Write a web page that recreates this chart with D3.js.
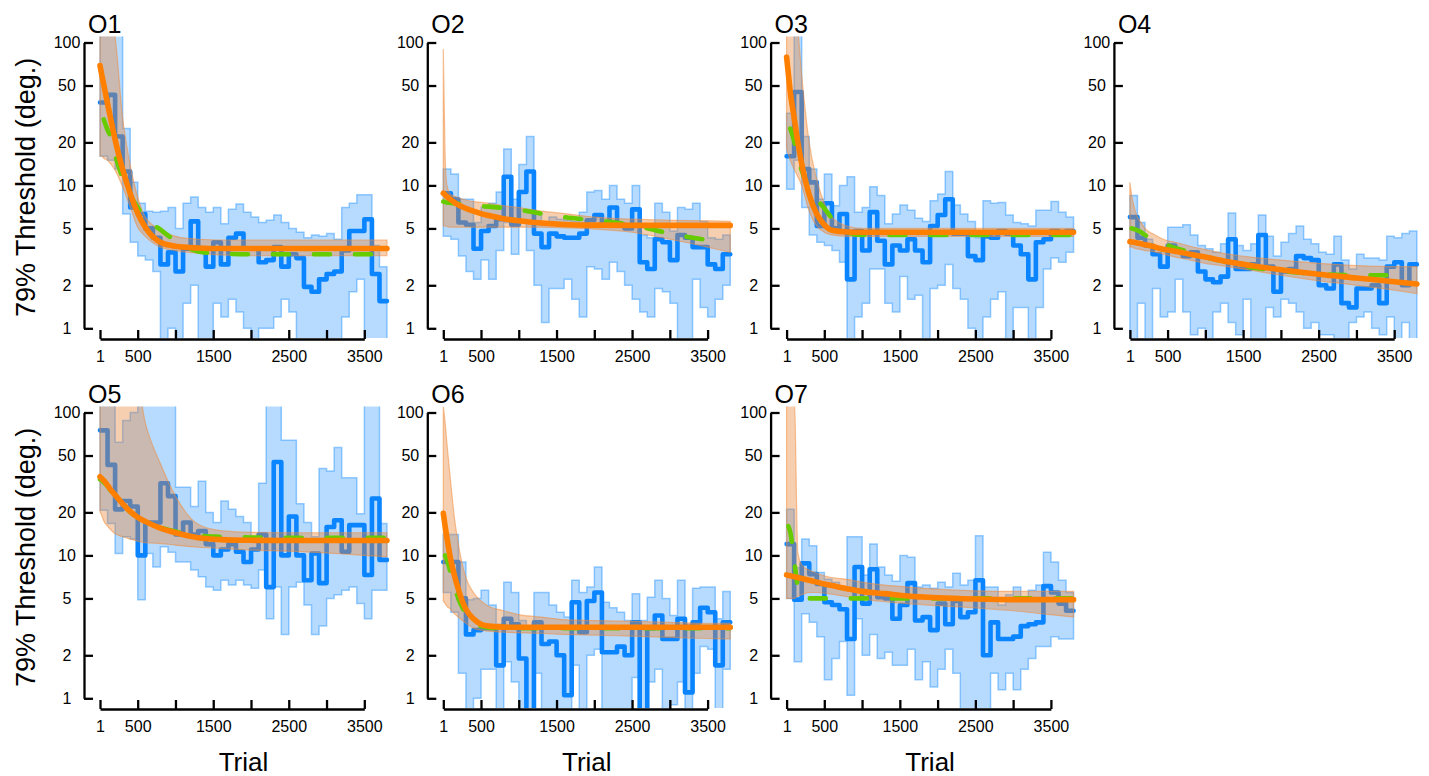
<!DOCTYPE html>
<html>
<head>
<meta charset="utf-8">
<script src="https://cdn.jsdelivr.net/npm/d3@7"></script>
<style>
body { margin: 0; background: #fff; }
svg { display: block; font-family: "Liberation Sans", Arial, sans-serif; }
</style>
</head>
<body>
<svg id="chart" width="1429" height="776"></svg>
<script>
// observers, one panel each
var NAMES = ["O1", "O2", "O3", "O4", "O5", "O6", "O7"];
var BLOCK = 100;           // trials per block of the staircase estimate
var LAST_TRIAL = 3800;
var X_TICKS = [1, 500, 1000, 1500, 2000, 2500, 3000, 3500];
var X_LABELS = [1, 500, 1500, 2500, 3500];
var Y_TICKS = [1, 2, 5, 10, 20, 50, 100];

// block thresholds (blue) with their interval
var o1Blue   = [38,43,22,12.5,7,6.3,5,4.3,2.8,3.4,2.5,3.6,5.6,3.6,2.7,4.0,2.8,4.3,4.6,3.6,3.6,2.9,3.0,3.7,2.7,3.3,3.1,1.95,1.8,2.2,2.4,2.5,3.5,4.8,4.8,5.8,2.4,1.55];
var o1BlueHi = [150,150,150,25,10.5,7.5,6.6,6.5,6.6,7,5,7.5,8.3,7,6.5,7,5.4,6.8,7.4,6.5,6,5.5,5.7,6.2,5.5,5,4.7,4.3,4.5,4.4,4.6,4.2,7,7.5,8.6,8.6,3.8,2.7];
var o1BlueLo = [16,15,13,6.3,4,3.2,3,2.5,0.5,1,0.6,1.5,2,0.5,0.5,1.5,1.2,1.6,1.3,1,0.5,1,1,1.2,1.6,1.3,0.5,0.5,0.5,0.5,0.5,0.5,1.2,1.8,2.2,0.5,0.5,0.5];

var o2Blue   = [8.8,8.0,5.5,5.3,3.6,4.8,5.2,5.8,11.5,5.3,9,12.5,4.6,3.7,4.6,4.4,4.3,4.3,4.6,5.7,6.2,5.3,7,5.3,5.0,6.8,2.9,2.6,4.2,4.0,3.0,4.5,4.3,3.7,3.7,2.8,2.6,3.3];
var o2BlueHi = [13,12,8,8,5.5,7,7.5,9,18,8,14,22,6.3,5.5,6,5.8,5.7,5.6,6.5,9,9.2,8,10,8,7.5,10,4.5,4.3,7.5,6.5,4.8,7,6.8,7.5,5.6,4.3,4.2,4.5];
var o2BlueLo = [4.4,4.2,3.2,2.5,2.2,3,2.2,3.5,5.5,3.3,5.6,3.5,2.0,1.1,1.9,1.9,2.2,1.6,1.2,2.7,2.6,2.2,2.9,2.5,2.0,1.6,1.3,1.2,1.9,1.8,1.5,0.6,0.5,2.2,1.4,1.2,1.6,2.0];

var o3Blue   = [16,45,13,10.5,5.2,7.5,5.0,6.3,2.2,4.8,3.5,6.5,4.1,2.8,3.8,3.5,4.2,3.5,2.9,5.2,6.2,8,4.6,4.6,3.2,3.0,4.4,4.3,4.8,4.6,3.8,3.3,2.2,4.0,4.2,4.8,4.6,4.8];
var o3BlueHi = [32,150,22,13,8,12,7.2,10,11.5,6.5,7,9.8,8.5,5.4,6.3,7.3,6.7,5.9,5.6,7.8,8.7,12.5,7.3,6.3,5.6,4.3,7.8,7.5,7.6,6.2,5.5,5.4,5.2,6.7,6.7,7.7,6.5,6.0];
var o3BlueLo = [9.4,15,7,4.5,4.0,3.8,3.5,2.9,0.5,1.2,1.5,2.6,2.6,1.5,1.3,2.3,1.6,1.7,0.5,1.9,2.0,2.8,1.9,1.6,1.0,0.5,1.2,1.6,1.8,0.5,1.4,1.4,0.5,1.4,2.6,3.1,2.9,3.4];

var o4Blue   = [6.0,4.3,3.8,3.3,2.7,3.8,3.5,3.2,3.4,2.5,2.2,2.1,2.3,4.2,2.6,2.6,2.8,4.5,2.7,1.8,2.5,2.6,3.2,3.1,3.0,2.0,1.9,2.8,1.5,1.4,1.9,1.9,2.0,1.5,2.7,2.9,2.0,2.8];
var o4BlueHi = [8.5,5.5,4.2,3.7,3.6,5.1,5.1,5.3,4.5,3.8,3.6,3.4,3.9,6.4,3.8,3.5,3.9,6.2,4.4,3.2,4.0,4.6,5.2,4.2,3.9,3.4,3.3,4.4,3.0,2.6,3.3,3.1,3.1,3.0,4.4,4.3,4.6,4.8];
var o4BlueLo = [0.5,1.5,0.5,1.9,1.2,1.3,2.2,1.3,0.9,1.0,0.5,1.3,1.5,1.1,0.9,1.6,0.5,0.5,1.4,1.2,1.6,1.5,1.3,1.0,1.1,0.9,0.9,0.5,0.5,1.1,1.2,1.3,1.0,0.9,1.2,0.5,1.1,0.5];

var o5Blue   = [75,43,21,24,22,10,17,17,32,26,14,17,14,14.8,12,10,11,12,10.6,9,11,14,6,45,10,18.7,10,6.7,10.3,6.4,15.8,17.6,10.6,16.3,16.3,7.3,25,9.3];
var o5BlueHi = [150,150,62,88,100,150,150,150,150,150,30,30,22,33,20,17,24,21,18.7,17,13.5,32,150,150,64,64,23,17,13.5,40.5,39,57,35,35,19.6,150,150,16.7];
var o5BlueLo = [20.7,16.7,10.3,13.5,13,4.9,10.3,8.3,11.5,10.5,9,9,7.9,7.1,6,5.7,6.7,6.2,6.7,6.2,5.9,7.9,3.6,6,2.8,6,6.5,4.5,2.8,3.2,5,5.3,5.7,6,4.6,3.6,5.7,5.7];

var o6Blue   = [9,9,5,2.8,3.0,3.1,3.1,1.7,3.6,3.3,1.9,0.5,3.4,2.4,2.5,2.0,1.05,4.7,2.9,4.8,5.5,2.1,2.1,2.3,2.0,3.4,0.5,3.1,3.8,2.6,2.6,3.6,1.1,3.4,4.3,4.0,1.7,3.4];
var o6BlueHi = [14,14,9,4.9,5.0,5.7,4.5,3.3,6.5,5.5,3.5,3.2,5.5,5.5,4.5,4.0,3.7,6.7,5.5,6.0,8.3,4.7,4.3,4.0,3.5,5.4,3.5,5.1,6.7,5.0,3.8,6.7,3.3,5.9,6.0,6.0,3.6,5.6];
var o6BlueLo = [5.5,4.0,1.5,0.5,1.0,1.6,1.6,0.5,1.8,1.3,0.5,0.5,1.5,0.6,0.5,0.5,0.5,1.7,0.8,2.0,2.2,0.5,0.5,0.7,0.5,1.4,0.5,1.3,1.6,0.5,0.9,1.3,0.5,1.5,2.3,2.2,0.5,1.6];

var o7Blue   = [12,4.9,8.8,7.4,6.3,4.7,4.5,4.2,2.6,8.3,4.6,8.0,5.1,5.0,3.6,4.5,6.4,3.5,3.7,3.0,4.6,3.3,4.8,3.7,4.0,6.7,2.0,3.4,2.6,2.6,2.7,3.2,3.3,3.4,6.1,5.5,4.6,4.1];
var o7BlueHi = [21,8.2,13,11.7,7.6,6.8,6.5,6.0,13.5,13.5,7.3,12,8.3,7.3,6.6,10,9.7,6.0,6.2,5.9,6.5,6.0,7.5,6.2,6.7,13.7,6.0,6.0,4.5,5.3,6.0,4.8,5.7,6.2,10.5,9.0,6.7,5.5];
var o7BlueLo = [5.0,1.8,3.9,3.4,2.7,1.35,1.9,2.5,1.05,3.6,2.0,2.8,1.9,2.1,1.7,1.7,2.2,1.35,1.8,1.2,1.6,2.2,1.5,0.5,0.5,0.5,0.5,1.5,1.15,1.5,1.15,1.6,1.9,2.3,2.3,2.7,2.6,2.6];

// fitted curves (orange with band, green dashed), sampled at these trials
var FIT_TRIALS = [1,25,50,100,150,200,300,400,500,600,800,1000,1300,1600,2000,2500,3000,3500,3800];

var o1Fit   = [69,59,51,37.5,28,21,13,8.8,6.4,5.1,4.0,3.75,3.65,3.62,3.62,3.62,3.62,3.62,3.62];
var o1FitHi = [150,150,150,150,150,110,30,14,8.3,6.0,4.9,4.4,4.2,4.15,4.15,4.15,4.15,4.15,4.15];
var o1FitLo = [16,16,15.5,15,14,12.8,9.8,7.1,5.1,4.4,3.7,3.5,3.35,3.26,3.22,3.22,3.22,3.22,3.22];
var o1Alt   = [null,null,29,24.5,21.5,16.5,11.3,8.6,7.0,5.9,4.9,4.1,3.45,3.33,3.3,3.3,3.3,3.3,3.3];

var o2Fit   = [8.8,8.6,8.35,7.95,7.6,7.3,6.9,6.6,6.35,6.15,5.85,5.65,5.45,5.33,5.27,5.25,5.25,5.25,5.25];
var o2FitHi = [90,16,10,8.6,8.4,8.2,7.9,7.7,7.6,7.5,7.2,7.0,6.6,6.35,6.0,5.8,5.7,5.65,5.6];
var o2FitLo = [5.2,5.2,5.15,5.1,5.1,5.1,5.1,5.1,5.1,5.1,5.1,5.1,5.1,5.05,4.95,4.7,4.2,3.7,3.4];
var o2Alt   = [7.7,7.65,7.6,7.55,7.5,7.45,7.35,7.25,7.15,7.1,6.95,6.75,6.35,6.0,5.7,5.3,4.6,4.15,null];

var o3Fit   = [79,60,45,30,20,14.3,8.6,6.3,5.3,4.85,4.72,4.7,4.7,4.7,4.7,4.7,4.7,4.7,4.7];
var o3FitHi = [150,150,150,150,120,60,20,11,7.5,6.0,5.2,5.0,5.0,5.0,5.0,5.0,5.0,5.0,5.0];
var o3FitLo = [18,16.5,15,13,11.5,10,6.6,5.2,4.7,4.5,4.4,4.4,4.4,4.4,4.4,4.4,4.4,4.4,4.4];
var o3Alt   = [null,null,25,20.5,16,12.8,9.5,8.0,6.9,5.9,4.7,4.5,4.5,4.5,4.5,4.5,4.5,4.5,4.5];

var o4Fit   = [4.04,4.02,4.0,3.95,3.9,3.85,3.75,3.62,3.53,3.46,3.3,3.15,2.92,2.75,2.57,2.39,2.25,2.12,2.04];
var o4FitHi = [10.5,8.5,7.3,6.0,5.5,5.0,4.6,4.3,4.1,4.0,3.75,3.55,3.3,3.15,3.0,2.85,2.75,2.7,2.7];
var o4FitLo = [3.7,3.7,3.65,3.6,3.55,3.5,3.45,3.35,3.25,3.15,3.0,2.85,2.7,2.55,2.35,2.15,2.0,1.85,1.75];
var o4Alt   = [null,5.0,4.95,4.85,4.7,4.5,4.2,3.95,3.8,3.65,3.4,3.15,2.9,2.68,2.52,2.4,2.35,2.35,null];

var o5Fit   = [35.5,34.5,33.5,31,28.5,26.5,23,20.3,18.5,17.3,15.5,14.4,13.3,12.9,12.75,12.7,12.7,12.7,12.7];
var o5FitHi = [150,150,150,150,150,150,150,150,150,85,44,26,16.5,14.9,14.5,14.4,14.4,14.4,14.4];
var o5FitLo = [20.2,19,17.5,16,15,14.2,13.5,13.0,12.6,12.3,12.1,11.8,11.4,11.2,10.9,10.7,10.4,10.0,9.8];
var o5Alt   = [34,33.5,32.5,30.5,28,26,22.7,20.1,18.4,17.3,15.7,14.7,13.8,13.5,13.35,13.3,13.3,13.3,13.3];

var o6Fit   = [19.7,16,13.2,9.3,7.2,5.8,4.2,3.6,3.3,3.2,3.15,3.14,3.14,3.14,3.14,3.14,3.14,3.14,3.14];
var o6FitHi = [110,85,60,32,18,12,7.0,5.5,4.8,4.4,4.1,3.85,3.7,3.55,3.5,3.45,3.4,3.35,3.35];
var o6FitLo = [4.8,4.6,4.4,4.2,3.9,3.7,3.35,3.1,3.0,2.95,2.9,2.88,2.85,2.8,2.77,2.72,2.67,2.62,2.6];
var o6Alt   = [null,10,9.3,7.5,6.0,5.0,3.9,3.35,3.2,3.12,3.1,3.1,3.1,3.1,3.1,3.1,3.1,3.1,3.1];

var o7Fit   = [7.3,7.25,7.2,7.1,7.0,6.9,6.7,6.5,6.3,6.15,5.85,5.6,5.4,5.2,5.05,4.95,4.9,4.9,4.9];
var o7FitHi = [150,150,150,150,10.5,8.6,7.9,7.5,7.2,7.0,6.8,6.5,6.2,6.0,5.8,5.65,5.6,5.6,5.6];
var o7FitLo = [5.0,5.0,5.0,5.0,5.2,5.3,5.5,5.5,5.45,5.35,5.15,4.95,4.75,4.6,4.45,4.3,4.1,3.85,3.7];
var o7Alt   = [null,16,14.5,9.3,6.0,5.0,5.0,5.0,5.0,5.0,5.0,5.0,5.0,5.0,5.0,5.0,5.0,5.0,5.0];

var panels = [
  [o1Blue, o1BlueLo, o1BlueHi, o1Fit, o1FitLo, o1FitHi, o1Alt],
  [o2Blue, o2BlueLo, o2BlueHi, o2Fit, o2FitLo, o2FitHi, o2Alt],
  [o3Blue, o3BlueLo, o3BlueHi, o3Fit, o3FitLo, o3FitHi, o3Alt],
  [o4Blue, o4BlueLo, o4BlueHi, o4Fit, o4FitLo, o4FitHi, o4Alt],
  [o5Blue, o5BlueLo, o5BlueHi, o5Fit, o5FitLo, o5FitHi, o5Alt],
  [o6Blue, o6BlueLo, o6BlueHi, o6Fit, o6FitLo, o6FitHi, o6Alt],
  [o7Blue, o7BlueLo, o7BlueHi, o7Fit, o7FitLo, o7FitHi, o7Alt]
];

var FONT = '"Liberation Sans", Arial, sans-serif';
var colStep = 343.3, rowStep = 370;
var svg = d3.select("#chart");
svg.append("rect").attr("width", 1429).attr("height", 776).attr("fill", "#fff");

panels.forEach(function(p, i) {
  var col = i % 4, row = Math.floor(i / 4);
  var x0 = 100 + col * colStep;
  var axisX = x0 - 16;
  var yTop = 42.5 + row * rowStep, yBot = 328.3 + row * rowStep;
  var axisY = yBot + 10.7;

  var x = d3.scaleLinear().domain([1, 3500]).range([x0, x0 + 264.3]);
  var y = d3.scaleLog().domain([1, 100]).range([yBot, yTop]);

  var g = svg.append("g");
  var clipId = "clip" + i;
  g.append("clipPath").attr("id", clipId).append("rect")
    .attr("x", axisX + 1).attr("y", yTop - 6)
    .attr("width", x(LAST_TRIAL) - axisX + 6).attr("height", axisY - 1 - (yTop - 6));
  var plot = g.append("g").attr("clip-path", "url(#" + clipId + ")");

  var blue = p[0], blueLo = p[1], blueHi = p[2];
  var steps = blue.map(function(v, k) { return {t: k * BLOCK + 1, v: v, lo: blueLo[k], hi: blueHi[k]}; });
  var lastB = steps[steps.length - 1];
  steps.push({t: LAST_TRIAL, v: lastB.v, lo: lastB.lo, hi: lastB.hi});

  // blue interval band (steps)
  plot.append("path").datum(steps)
    .attr("d", d3.area().curve(d3.curveStepAfter)
      .x(function(d) { return x(d.t); })
      .y0(function(d) { return y(d.lo); })
      .y1(function(d) { return y(d.hi); }))
    .attr("fill", "rgba(30,144,255,0.32)")
    .attr("stroke", "rgba(30,144,255,0.45)").attr("stroke-width", 1.5);

  // blue block estimate
  plot.append("path").datum(steps)
    .attr("d", d3.line().curve(d3.curveStepAfter)
      .x(function(d) { return x(d.t); })
      .y(function(d) { return y(d.v); }))
    .attr("fill", "none").attr("stroke", "#0a84ff").attr("stroke-width", 4.6)
    .attr("stroke-linejoin", "round").attr("stroke-linecap", "round");

  var fit = FIT_TRIALS.map(function(t, k) {
    return {t: t, v: p[3][k], lo: p[4][k], hi: p[5][k], alt: p[6][k]};
  });

  // orange fit band
  plot.append("path").datum(fit)
    .attr("d", d3.area().curve(d3.curveMonotoneX)
      .x(function(d) { return x(d.t); })
      .y0(function(d) { return y(d.lo); })
      .y1(function(d) { return y(d.hi); }))
    .attr("fill", "rgba(232,130,50,0.38)")
    .attr("stroke", "rgba(240,140,60,0.55)").attr("stroke-width", 1.2);

  // green dashed alternative fit
  plot.append("path").datum(fit)
    .attr("d", d3.line().curve(d3.curveMonotoneX)
      .defined(function(d) { return d.alt != null; })
      .x(function(d) { return x(d.t); })
      .y(function(d) { return y(d.alt); }))
    .attr("fill", "none").attr("stroke", "#66cc00").attr("stroke-width", 4.6)
    .attr("stroke-dasharray", "16,25").attr("stroke-linecap", "round");

  // orange fit
  plot.append("path").datum(fit)
    .attr("d", d3.line().curve(d3.curveMonotoneX)
      .x(function(d) { return x(d.t); })
      .y(function(d) { return y(d.v); }))
    .attr("fill", "none").attr("stroke", "#ff7f00").attr("stroke-width", 5.6)
    .attr("stroke-linecap", "round");

  // axes
  var gy = g.append("g").attr("transform", "translate(" + axisX + ",0)")
    .call(d3.axisLeft(y).tickValues(Y_TICKS).tickFormat(d3.format("d"))
      .tickSizeInner(-9).tickSizeOuter(0).tickPadding(0));
  gy.selectAll("text").attr("x", -17).attr("text-anchor", "middle");

  var gx = g.append("g").attr("transform", "translate(0," + axisY + ")")
    .call(d3.axisBottom(x).tickValues(X_TICKS)
      .tickFormat(function(d) { return X_LABELS.indexOf(d) >= 0 ? d : ""; })
      .tickSizeInner(-9).tickSizeOuter(0).tickPadding(12));

  [gx, gy].forEach(function(a) {
    a.attr("font-size", 16).attr("font-family", FONT);
    a.selectAll("text").attr("fill", "#000");
    a.selectAll(".domain, .tick line").attr("stroke", "#000").attr("stroke-width", 2.3);
  });

  g.append("text").attr("x", axisX + 4).attr("y", yTop - 9.5)
    .attr("font-size", 25).attr("font-family", FONT).text(NAMES[i]);

  if (col === 0) {
    g.append("text")
      .attr("transform", "translate(35," + ((yTop + yBot) / 2 + 2) + ") rotate(-90)")
      .attr("text-anchor", "middle").attr("font-size", 27).attr("font-family", FONT)
      .text("79% Threshold (deg.)");
  }
  if (row === 1) {
    g.append("text").attr("x", (x(1) + x(LAST_TRIAL)) / 2).attr("y", axisY + 62)
      .attr("text-anchor", "middle").attr("font-size", 26).attr("font-family", FONT)
      .text("Trial");
  }
});
</script>
</body>
</html>
